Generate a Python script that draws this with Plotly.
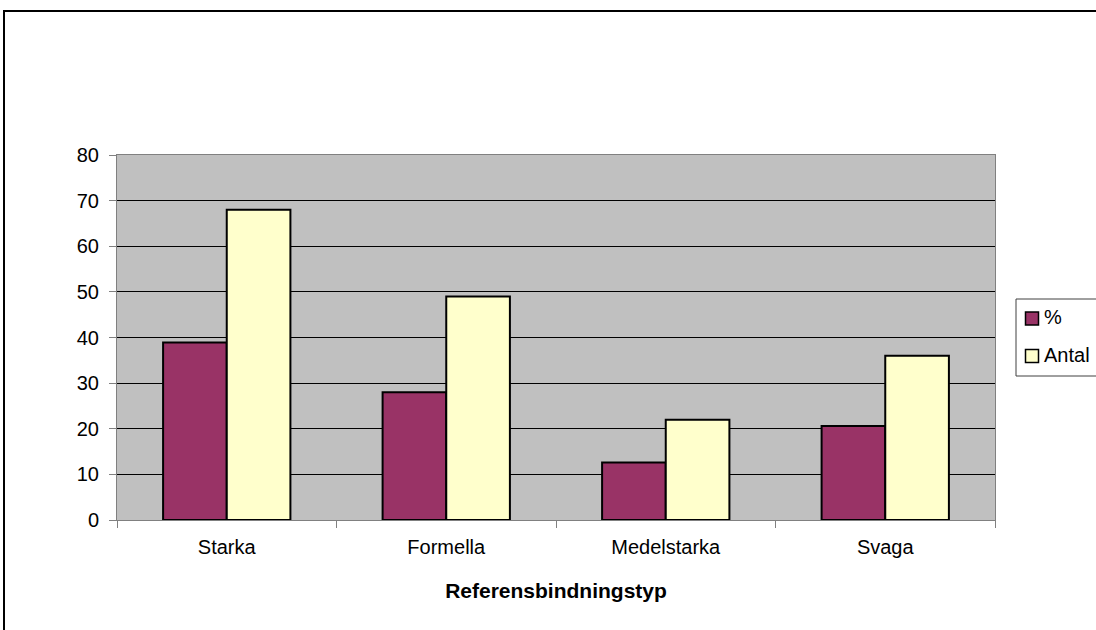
import plotly.graph_objects as go

categories = ["Starka", "Formella", "Medelstarka", "Svaga"]
procent = [38.9, 28.0, 12.6, 20.6]
antal = [68, 49, 22, 36]
y_ticks = [0, 10, 20, 30, 40, 50, 60, 70, 80]
series_names = ["%", "Antal"]
series_colors = ["#993366", "#FFFFCC"]

W, H = 1096, 630
L, R, T, B = 117, 995, 155, 520

fig = go.Figure()
for name, vals, col in zip(series_names, [procent, antal], series_colors):
    fig.add_trace(go.Bar(name=name, x=categories, y=vals,
                         marker=dict(color=col, line=dict(color="black", width=2))))

pw, ph = R - L, B - T
def px2x(x):
    return (x - L) / pw
def px2y(y):
    return (B - y) / ph

shapes = [
    # outer chart-area border (extends off-canvas right/bottom)
    dict(type="rect", xref="paper", yref="paper",
         x0=px2x(4), x1=px2x(1120), y0=px2y(650), y1=px2y(11),
         line=dict(color="black", width=2), fillcolor="rgba(0,0,0,0)", layer="below"),
    # legend box
    dict(type="rect", xref="paper", yref="paper",
         x0=px2x(1016), x1=px2x(1120), y0=px2y(376), y1=px2y(299),
         line=dict(color="#404040", width=1), fillcolor="white"),
]
annotations = []
item_y = [318.5, 356]
for name, col, yc in zip(series_names, series_colors, item_y):
    shapes.append(dict(type="rect", xref="paper", yref="paper",
                       x0=px2x(1025.5), x1=px2x(1038.5), y0=px2y(yc + 6.5), y1=px2y(yc - 6.5),
                       line=dict(color="black", width=1.5), fillcolor=col))
    annotations.append(dict(text=name, xref="paper", yref="paper", x=px2x(1042), y=px2y(yc - 1.5),
                            xanchor="left", yanchor="middle", showarrow=False,
                            font=dict(size=20, color="black")))

fig.update_layout(
    width=W, height=H,
    margin=dict(l=L, r=W - R, t=T, b=H - B),
    paper_bgcolor="white",
    plot_bgcolor="#C0C0C0",
    barmode="group",
    bargap=0.42,
    bargroupgap=0,
    font=dict(family="Liberation Sans, Arial, sans-serif", size=20, color="black"),
    showlegend=False,
    xaxis=dict(
        showline=True, linecolor="#808080", linewidth=1, mirror=True,
        ticks="outside", tickson="boundaries", ticklen=7, tickcolor="#808080",
        ticklabelstandoff=9,
        showgrid=False,
        title=dict(text="<b>Referensbindningstyp</b>", font=dict(size=21), standoff=26),
    ),
    yaxis=dict(
        range=[0, 80], tickvals=y_ticks, showline=True, linecolor="#808080", linewidth=1,
        mirror=True, ticks="outside", ticklen=7, tickcolor="#808080",
        ticklabelstandoff=6,
        showgrid=True, gridcolor="black", gridwidth=1, zeroline=False,
    ),
    shapes=shapes,
    annotations=annotations,
)

fig.write_html("out.html")
